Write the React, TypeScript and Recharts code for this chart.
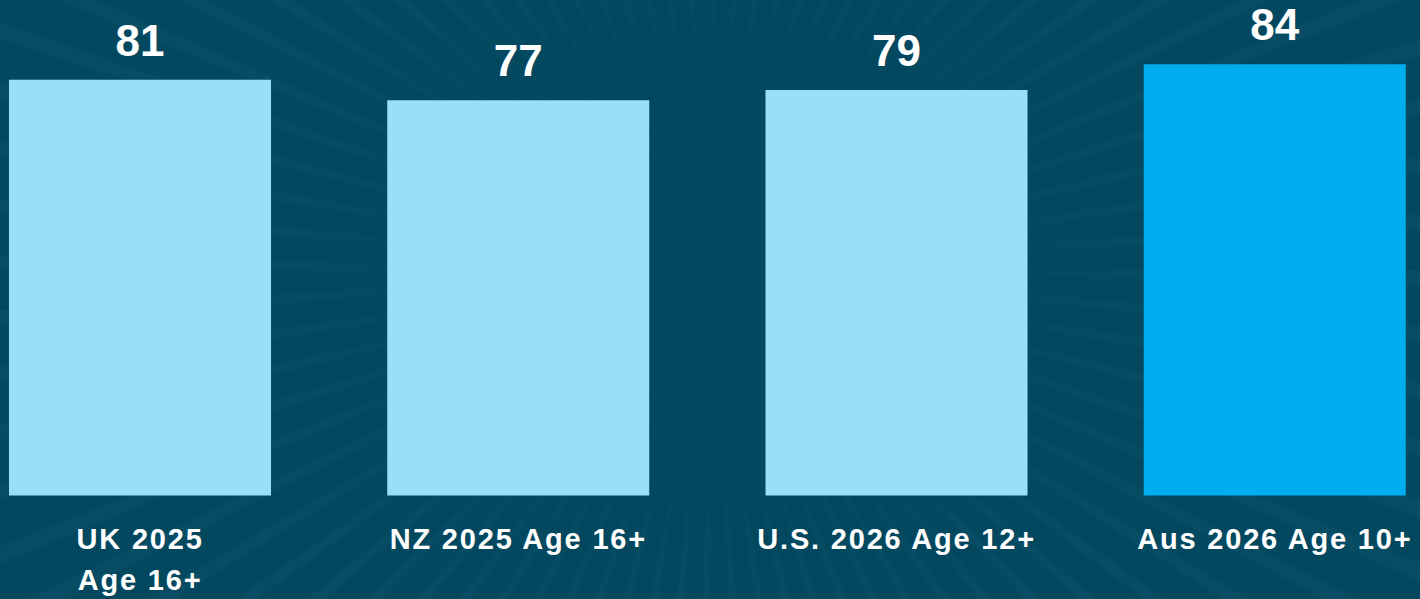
import React from "react";
import { BarChart, Bar, XAxis, YAxis, Cell, LabelList } from "recharts";

const categories = ["UK 2025\nAge 16+", "NZ 2025 Age 16+", "U.S. 2026 Age 12+", "Aus 2026 Age 10+"];
const values = [81, 77, 79, 84];
const highlighted = [false, false, false, true];

const data = categories.map((c, i) => ({ name: c, value: values[i] }));

const FONT = "'Liberation Sans', Arial, sans-serif";

const Tick = (props: any) => {
  const { x, y, payload } = props;
  const lines = String(payload.value).split("\n");
  return (
    <g>
      {lines.map((l, i) => (
        <text
          key={i}
          x={x}
          y={y + 53 + i * 41}
          textAnchor="middle"
          fill="#ffffff"
          fontFamily={FONT}
          fontWeight={700}
          fontSize={29}
          letterSpacing={1.8}
        >
          {l}
        </text>
      ))}
    </g>
  );
};

const ValueLabel = (props: any) => {
  const { x, y, width, value } = props;
  return (
    <text
      x={x + width / 2}
      y={y - 24}
      textAnchor="middle"
      fill="#ffffff"
      fontFamily={FONT}
      fontWeight={700}
      fontSize={44}
    >
      {value}
    </text>
  );
};

export default function App() {
  return (
    <div
      style={{
        position: "fixed",
        left: 0,
        top: 0,
        width: 1420,
        height: 599,
        overflow: "hidden",
        backgroundColor: "#03485f",
        backgroundImage:
          "radial-gradient(ellipse 520px 380px at 50% 45%, #03485f 0%, rgba(3,72,95,0.85) 45%, rgba(3,72,95,0) 100%), repeating-conic-gradient(from 0deg at 50% 45%, rgba(120,200,230,0.035) 0deg 1.2deg, rgba(0,0,0,0) 1.2deg 4.5deg)",
      }}
    >
      <BarChart
        width={1420}
        height={599}
        data={data}
        margin={{ top: 33.5, right: -44, bottom: 73.5, left: -49 }}
        barCategoryGap={0}
      >
        <XAxis
          dataKey="name"
          axisLine={false}
          tickLine={false}
          tickSize={0}
          tickMargin={0}
          interval={0}
          tick={<Tick />}
        />
        <YAxis hide domain={[0, 90]} />
        <Bar dataKey="value" barSize={262} isAnimationActive={false}>
          {data.map((d, i) => (
            <Cell key={i} fill={highlighted[i] ? "#00aeef" : "#9adff8"} />
          ))}
          <LabelList dataKey="value" content={<ValueLabel />} />
        </Bar>
      </BarChart>
    </div>
  );
}
